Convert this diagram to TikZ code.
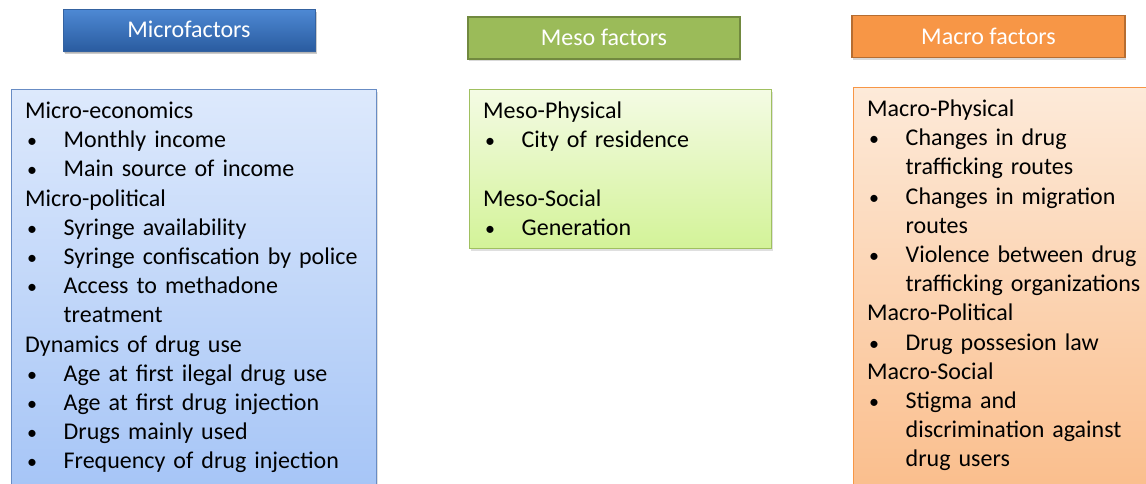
\documentclass[tikz,border=0pt]{standalone}
\usepackage{fontspec}
\setmainfont{Carlito}
\usetikzlibrary{shadows}

\definecolor{microA}{RGB}{78,137,212}
\definecolor{microB}{RGB}{42,92,160}
\definecolor{microL}{RGB}{52,98,160}
\definecolor{mesoF}{RGB}{155,187,89}
\definecolor{mesoL}{RGB}{113,137,63}
\definecolor{macroF}{RGB}{247,150,70}
\definecolor{macroL}{RGB}{182,109,49}
\definecolor{microtop}{RGB}{221,233,252}
\definecolor{microbot}{RGB}{163,195,246}
\definecolor{microedge}{RGB}{104,140,196}
\definecolor{mesotop}{RGB}{244,251,228}
\definecolor{mesobot}{RGB}{211,243,152}
\definecolor{mesoedge}{RGB}{160,192,96}
\definecolor{macrotop}{RGB}{253,234,217}
\definecolor{macrobot}{RGB}{250,188,137}
\definecolor{macroedge}{RGB}{247,150,70}

% group title and bullet line inside a factor box
\newcommand\grp[1]{\par\noindent#1\par}
\newcommand\itm[1]{\par\hangindent=38.5pt\hangafter=1\noindent
  \makebox[38.5pt][l]{\hspace{2pt}{\fontsize{20}{20}\selectfont\textbullet}}#1\par}

\begin{document}
\begin{tikzpicture}[x=1pt,y=-1pt,
    head/.style={minimum height=42pt, text height=15pt, text depth=0pt,
      font=\fontsize{24}{29}\selectfont, text=white, line width=1.8pt,
      drop shadow={shadow xshift=1pt, shadow yshift=-2pt, opacity=.3}},
    frame/.style={anchor=north west, line width=1.2pt,
      drop shadow={shadow xshift=1.5pt, shadow yshift=-2.5pt, opacity=.25}},
    list/.style={anchor=north west, inner sep=0pt, text width=#1, align=left,
      font=\fontsize{24}{29.2}\selectfont}]

  \useasboundingbox (0,0) rectangle (1146,483);
  \clip (0,0) rectangle (1146,483);

  % headings
  \node[head, minimum width=252pt, line width=.8pt, top color=microA,
    bottom color=microB, draw=microL,
    drop shadow={shadow xshift=1.5pt, shadow yshift=-3pt, opacity=.4}] (micro) at (189,30) {Microfactors};
  \node[head, minimum width=272pt, fill=mesoF, draw=mesoL] (meso) at (604,38) {Meso factors};
  \node[head, minimum width=273pt, fill=macroF, draw=macroL] (macro) at (988.5,36.5) {Macro factors};

  % boxes
  \node[frame, minimum width=365pt, minimum height=420pt, top color=microtop,
    bottom color=microbot, draw=microedge] (microbox) at (11,89) {};
  \node[frame, minimum width=302pt, minimum height=159pt, top color=mesotop,
    bottom color=mesobot, draw=mesoedge] (mesobox) at (469,89) {};
  \node[frame, minimum width=320pt, minimum height=420pt, top color=macrotop,
    bottom color=macrobot, draw=macroedge] (macrobox) at (853,87) {};

  % lists
  \node[list=345pt] (microlist) at ([shift={(14,0)}]microbox.north west) {%
    \grp{\rule{0pt}{20pt}Micro-economics}
    \itm{Monthly income}
    \itm{Main source of income}
    \grp{Micro-political}
    \itm{Syringe availability}
    \itm{Syringe confiscation by police}
    \itm{Access to methadone\newline treatment}
    \grp{Dynamics of drug use}
    \itm{Age at first ilegal drug use}
    \itm{Age at first drug injection}
    \itm{Drugs mainly used}
    \itm{Frequency of drug injection}};

  \node[list=280pt] (mesolist) at ([shift={(14,0)}]mesobox.north west) {%
    \grp{\rule{0pt}{20pt}Meso-Physical}
    \itm{City of residence}
    \grp{\mbox{}}
    \grp{Meso-Social}
    \itm{Generation}};

  \node[list=290pt] (macrolist) at ([shift={(14,0)}]macrobox.north west) {%
    \grp{\rule{0pt}{20pt}Macro-Physical}
    \itm{Changes in drug\newline trafficking routes}
    \itm{Changes in migration\newline routes}
    \itm{Violence between drug\newline trafficking organizations}
    \grp{Macro-Political}
    \itm{Drug possesion law}
    \grp{Macro-Social}
    \itm{Stigma and\newline discrimination against\newline drug users}};
\end{tikzpicture}
\end{document}
